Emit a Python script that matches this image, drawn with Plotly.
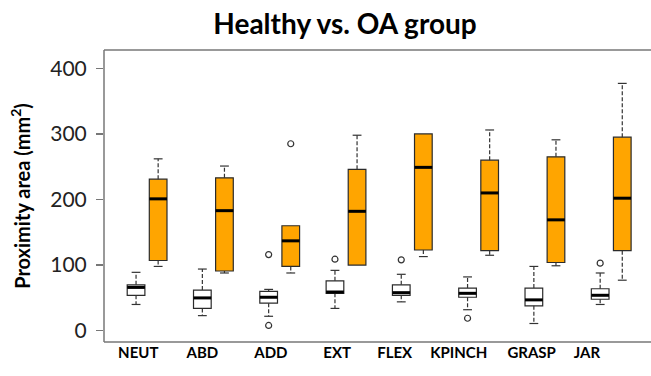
import plotly.graph_objects as go

categories = ["NEUT", "ABD", "ADD", "EXT", "FLEX", "KPINCH", "GRASP", "JAR"]

healthy_lower = [40, 23, 22, 34, 44, 32, 11, 40]
healthy_q1 = [54, 34, 42, 57, 54, 51, 38, 48]
healthy_median = [66, 50, 51, 59, 58, 57, 47, 54]
healthy_q3 = [70, 62, 60, 76, 70, 65, 65, 64]
healthy_upper = [89, 94, 63, 92, 86, 82, 98, 88]
healthy_outlier_cat = ["ADD", "ADD", "EXT", "FLEX", "KPINCH", "JAR"]
healthy_outlier_val = [116, 8, 109, 108, 19, 103]

oa_lower = [98, 88, 88, 100, 113, 115, 99, 77]
oa_q1 = [107, 91, 98, 100, 123, 122, 104, 122]
oa_median = [201, 183, 137, 182, 249, 210, 169, 202]
oa_q3 = [231, 233, 160, 246, 300, 260, 265, 295]
oa_upper = [262, 251, 160, 298, 300, 306, 291, 377]
oa_outlier_cat = ["ADD"]
oa_outlier_val = [285]

y_ticks = [0, 100, 200, 300, 400]

BOX_W = 0.8
CAP_W = 0.4
ORANGE = "#FFA500"
EDGE = "#2b2b2b"
FRAME = "#777"

fig = go.Figure()


def add_group(offset, lower, q1, med, q3, upper, fill, out_cat, out_val):
    xs = [3 * i + offset for i in range(len(categories))]
    wx, wy = [], []
    cx, cy = [], []
    mx, my = [], []
    for x, lo, a, m, b, hi in zip(xs, lower, q1, med, q3, upper):
        if hi > b:
            wx += [x, x, None]
            wy += [b, hi, None]
            cx += [x - CAP_W / 2, x + CAP_W / 2, None]
            cy += [hi, hi, None]
        if lo < a:
            wx += [x, x, None]
            wy += [a, lo, None]
            cx += [x - CAP_W / 2, x + CAP_W / 2, None]
            cy += [lo, lo, None]
        mx += [x - BOX_W / 2, x + BOX_W / 2, None]
        my += [m, m, None]
    fig.add_trace(go.Scatter(x=wx, y=wy, mode="lines",
                             line=dict(color="#333", width=1.2, dash="4px,2px"),
                             hoverinfo="skip", showlegend=False))
    fig.add_trace(go.Box(x=xs, q1=q1, median=med, q3=q3,
                         lowerfence=q1, upperfence=q3,
                         width=BOX_W, fillcolor=fill,
                         line=dict(color=EDGE, width=1.2),
                         boxpoints=False, hoverinfo="skip", showlegend=False))
    fig.add_trace(go.Scatter(x=cx, y=cy, mode="lines",
                             line=dict(color="#333", width=1.2),
                             hoverinfo="skip", showlegend=False))
    fig.add_trace(go.Scatter(x=mx, y=my, mode="lines",
                             line=dict(color="black", width=3),
                             hoverinfo="skip", showlegend=False))
    ox = [3 * categories.index(c) + offset for c in out_cat]
    fig.add_trace(go.Scatter(x=ox, y=out_val, mode="markers",
                             marker=dict(symbol="circle-open", size=6,
                                         color="#333", line=dict(width=1.2)),
                             hoverinfo="skip", showlegend=False))


add_group(1, healthy_lower, healthy_q1, healthy_median, healthy_q3,
          healthy_upper, "white", healthy_outlier_cat, healthy_outlier_val)
add_group(2, oa_lower, oa_q1, oa_median, oa_q3, oa_upper, ORANGE,
          oa_outlier_cat, oa_outlier_val)

label_pos = [1.1, 4.0, 7.1, 10.1, 12.7, 15.6, 18.9, 21.4]

# frame: left, top and bottom lines (the right side is cut off in the original)
for x0, y0, x1, y1 in [(0, 0, 0, 1), (0, 1, 1, 1), (0, 0, 1, 0)]:
    fig.add_shape(type="line", xref="paper", yref="paper",
                  x0=x0, y0=y0, x1=x1, y1=y1,
                  line=dict(color=FRAME, width=1.5), layer="above")

fig.update_layout(
    width=651, height=376,
    margin=dict(l=104, r=0, t=50, b=34, autoexpand=False),
    paper_bgcolor="white", plot_bgcolor="white",
    title=dict(text="<b>Healthy vs. OA group</b>", x=0.53, xanchor="center",
               y=1 - 24 / 376, yref="container", yanchor="middle",
               font=dict(family="Lato", size=28, color="black")),
    boxmode="overlay",
    xaxis=dict(range=[-0.45, 24.3], showgrid=False, zeroline=False,
               automargin=False, showline=False,
               tickmode="array", tickvals=label_pos,
               ticktext=["<b>%s</b>" % c for c in categories],
               ticks="", tickfont=dict(family="Lato", size=15, color="black")),
    yaxis=dict(range=[-17.2, 427.9], showgrid=False, zeroline=False,
               automargin=False, showline=False,
               tickmode="array", tickvals=y_ticks, ticks="outside",
               ticklen=7, tickcolor=FRAME, tickwidth=1.5,
               ticklabelstandoff=5,
               tickfont=dict(family="Lato", size=21, color="#222"),
               title=dict(text="<b>Proximity area (mm<sup>2</sup>)</b>",
                          font=dict(family="Lato", size=20, color="black"),
                          standoff=14)),
)

fig.write_html("out.html",
               config={"displayModeBar": False, "staticPlot": True},
               post_script="document.documentElement.style.overflow='hidden';"
                           "document.body.style.margin='0';"
                           "document.body.style.overflow='hidden';")
